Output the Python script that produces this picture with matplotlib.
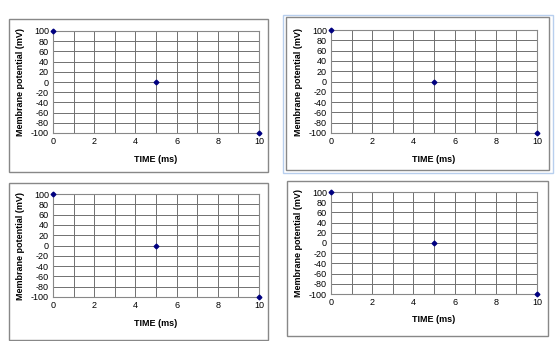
import matplotlib.pyplot as plt
from matplotlib.patches import Rectangle

plt.rcParams['font.family'] = ['Liberation Sans', 'DejaVu Sans']
plt.rcParams['axes.unicode_minus'] = False

# data shared by all four panels
time_ms = [0, 5, 10]
potential_mv = [100, 0, -100]
x_ticks = [0, 2, 4, 6, 8, 10]
y_ticks = [100, 80, 60, 40, 20, 0, -20, -40, -60, -80, -100]

W, H = 560, 341
fig = plt.figure(figsize=(W / 100, H / 100), dpi=100)
fig.patch.set_facecolor('white')


def px_rect(x0, y0, x1, y1):
    # pixel box (top-left origin) -> figure fraction [left, bottom, width, height]
    return [x0 / W, 1 - y1 / H, (x1 - x0) / W, (y1 - y0) / H]


def frame(x0, y0, x1, y1, color, lw=1.0):
    l, b, w, h = px_rect(x0, y0, x1, y1)
    fig.patches.append(Rectangle((l, b), w, h, transform=fig.transFigure,
                                 fill=False, edgecolor=color, linewidth=lw))


def panel(plot_box):
    ax = fig.add_axes(px_rect(*plot_box))
    ax.set_xlim(0, 10)
    ax.set_ylim(-100, 100)
    ax.set_xticks(range(0, 11), minor=True)
    ax.set_xticks(x_ticks)
    ax.set_yticks(y_ticks)
    ax.grid(True, which='both', axis='x', color='#707070', linewidth=0.7)
    ax.grid(True, which='major', axis='y', color='#707070', linewidth=0.7)
    ax.tick_params(which='both', length=0, labelsize=6.5, pad=3)
    for s in ax.spines.values():
        s.set_color('#888888')
        s.set_linewidth(0.8)
    ax.plot(time_ms, potential_mv, linestyle='none', marker='D',
            markersize=2.4, color='#000080', clip_on=False, zorder=5)
    ax.set_xlabel('TIME (ms)', fontsize=6.5, fontweight='bold', labelpad=6)
    ax.set_ylabel('Membrane potential (mV)', fontsize=6.5, fontweight='bold', labelpad=4)
    return ax


# top left
frame(9, 19, 268, 172, '#888888')
panel((53, 31, 259, 133))

# top right (selected chart: light blue outline)
frame(283, 15, 553, 173, '#b8cfee')
frame(286, 17, 549, 170, '#888888')
panel((331, 30, 537, 133))

# bottom left
frame(9, 183, 268, 340, '#888888')
panel((53, 194, 259, 297))

# bottom right
frame(287, 181, 548, 336, '#888888')
panel((331, 192, 537, 294))

plt.savefig('out.png', dpi=100)
print("Saved: out.png")
